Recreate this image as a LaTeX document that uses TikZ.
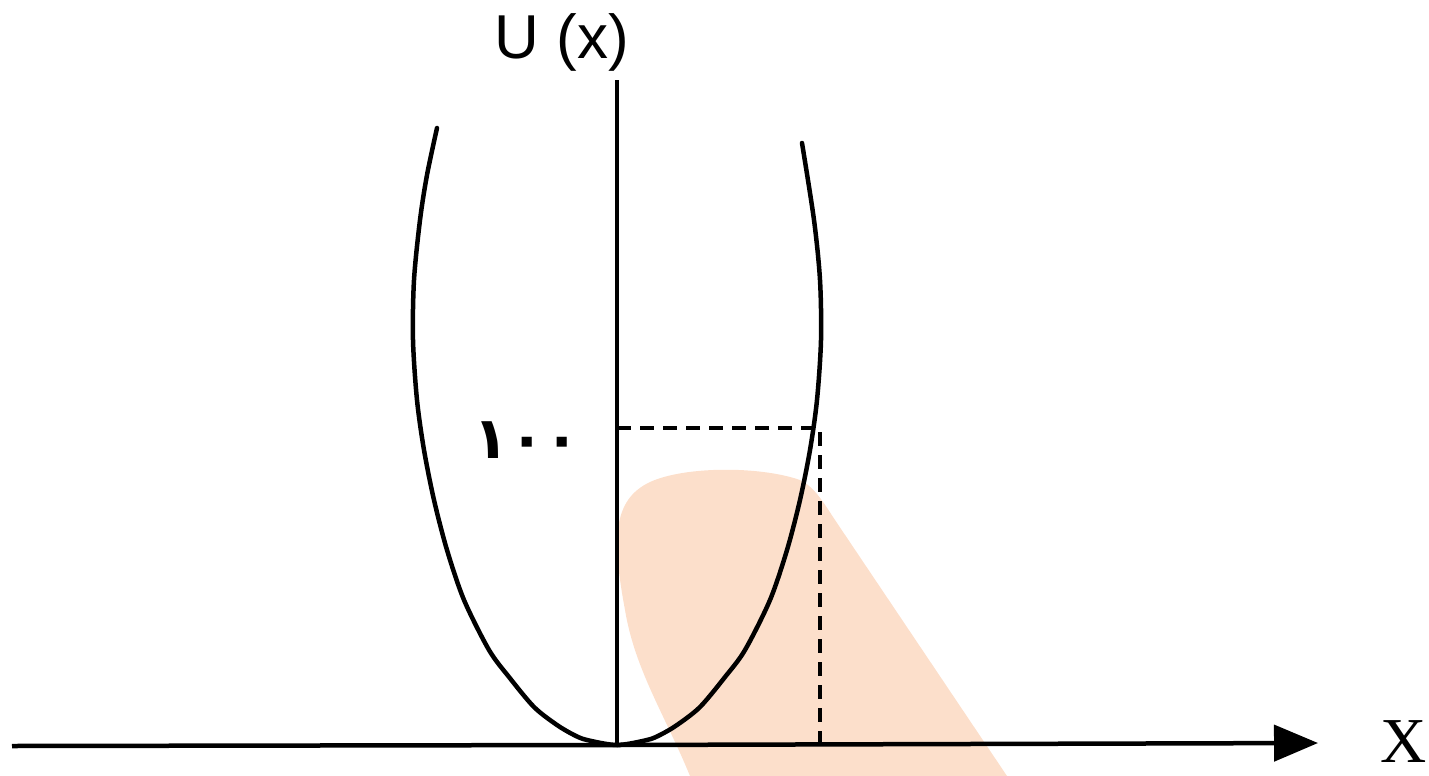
\documentclass[tikz,border=0pt]{standalone}
\usepackage{fontspec}
\setmainfont{Liberation Sans}
\newfontfamily\serifx{Liberation Serif}
\newfontfamily\arabicfont[Script=Arabic]{DejaVu Sans}
\usetikzlibrary{arrows.meta}
\definecolor{peach}{RGB}{252,223,203}
\tikzset{
  curve/.style={line width=4.5pt, line cap=round},
  axisline/.style={line width=4.5pt},
  guide/.style={line width=4pt, dash pattern=on 14pt off 9pt},
  lbl/.style={inner sep=0pt, anchor=center}
}
\begin{document}
\begin{tikzpicture}[x=1pt,y=-1pt]
\useasboundingbox (0,0) rectangle (1429,776);
% highlighter blob
\fill[peach] (690,776) .. controls (665,715) and (635,670) .. (625,610)
  .. controls (612,540) and (612,500) .. (650,482)
  .. controls (685,466) and (760,466) .. (800,480)
  .. controls (815,487) and (825,505) .. (835,520) -- (1007,776) -- cycle;
% nodes / coordinates
\coordinate (o) at (617,745);
\coordinate (ytop) at (617,80);
\coordinate (xl) at (12,746);
\coordinate (xr) at (1318,743);
\coordinate (p) at (820,428);
\coordinate (py) at (617,428);
\coordinate (px) at (820,745);
% axes
\draw[axisline] (xl) -- (o);
\draw[axisline, -{Triangle[length=44pt,width=36pt]}] (o) -- (xr);
\draw[line width=4pt] (o) -- (ytop);
% potential curve
\draw[curve] plot[smooth] coordinates {
  (437,128) (427,175) (420,220) (414,280) (413,340) (417,400) (424,450) (434,500)
  (447,550) (464,600) (489,650) (509,677) (534,707) (557,725) (574,735) (587,740)
  (617,745)
  (647,740) (660,735) (677,725) (700,707) (725,677) (745,650) (770,600) (787,550)
  (800,500) (810,450) (817,400) (821,340) (820,280) (814,220) (802,143)};
% dashed guides
\draw[guide] (py) -- (p) -- (px);
% labels
\node[lbl] (ulabel) at (562,42) {\fontsize{62}{62}\selectfont U (x)};
\node[lbl] (xlabel) at (1404,742) {\serifx\fontsize{64}{64}\selectfont X};
\node[lbl] (hundred) at (527,440) {\arabicfont\bfseries\fontsize{58}{58}\selectfont ١٠٠};
\end{tikzpicture}
\end{document}
